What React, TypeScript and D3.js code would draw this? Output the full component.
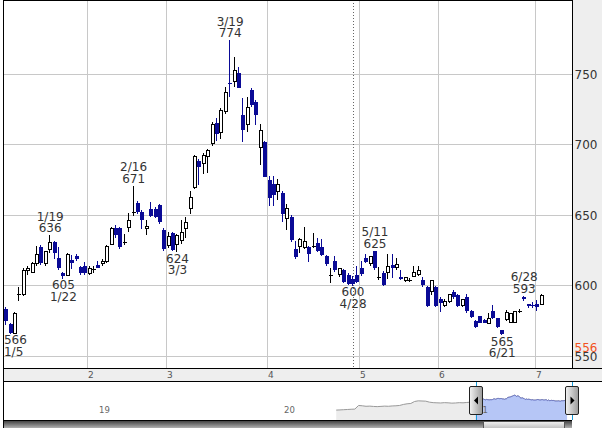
import React from "react";
import * as d3 from "d3";

// ---------------- data ----------------
const dates = [
  "1/4","1/5","1/6","1/7","1/8","1/12","1/13","1/14","1/15","1/18","1/19","1/20","1/21","1/22","1/25","1/26","1/27","1/28","1/29",
  "2/1","2/2","2/3","2/4","2/5","2/8","2/9","2/10","2/12","2/15","2/16","2/17","2/18","2/19","2/22","2/24","2/25","2/26",
  "3/1","3/2","3/3","3/4","3/5","3/8","3/9","3/10","3/11","3/12","3/15","3/16","3/17","3/18","3/19","3/22","3/23","3/24","3/25","3/26","3/29","3/30","3/31",
  "4/1","4/2","4/5","4/6","4/7","4/8","4/9","4/12","4/13","4/14","4/15","4/16","4/19","4/20","4/21","4/22","4/23","4/26","4/27","4/28","4/30",
  "5/6","5/7","5/10","5/11","5/12","5/13","5/14","5/17","5/18","5/19","5/20","5/21","5/24","5/25","5/26","5/27","5/28","5/31",
  "6/1","6/2","6/3","6/4","6/7","6/8","6/9","6/10","6/11","6/14","6/15","6/16","6/17","6/18","6/21","6/22","6/23","6/24","6/25","6/28","6/29","6/30",
  "7/1","7/2",
];

const opens = [
  584, 573, 567, 594, 594, 611, 610, 616, 627.5, 616, 626, 631, 619.5, 609, 608, 618.5, 621, 613.5, 614,
  609, 611.5, 615, 616, 618, 630, 641, 641, 631.5, 642, 652, 658.5, 652.5, 641, 654.5, 654.5, 657.5, 640,
  629, 637.5, 630, 632.5, 641, 655.5, 670, 688.5, 687, 692, 701, 715.5, 709, 724, 744, 745, 751, 721, 715, 739, 730.5, 698.5, 702,
  675, 672.5, 667, 666, 648, 649, 626, 628.5, 627.5, 627.5, 628.5, 630.5, 627.5, 621, 608, 617.5, 608.5, 611.5, 608, 605, 608,
  613, 619.5, 616, 624.5, 606, 609.5, 610, 615, 613.5, 606.5, 604, 604.5, 607, 608.5, 604.5, 599, 596.5, 599,
  591, 586.5, 589, 596, 593.5, 586.5, 592, 582, 575, 578.5, 576, 573.5, 582, 577, 568.5, 576.5, 574.5, 574.5, 582, 592, 587, 586.5,
  587.5, 587,
];

const highs = [
  585, 574, 581.5, 599, 613, 614, 617, 628, 629, 625, 636, 632, 627.5, 610, 623, 622, 622.5, 614, 617,
  614, 614, 617.5, 619, 629, 641.5, 643, 642, 637, 651.5, 671, 660, 654, 647, 659.5, 656, 658, 641,
  638, 638, 637, 647, 649, 667, 693, 690, 694, 697, 716, 719, 726, 741, 774, 762.5, 755, 733, 734, 740, 732, 715, 703,
  678, 678, 676, 667, 658, 650, 632, 634, 642, 628, 637.5, 634, 633, 622, 613, 621, 613, 612, 609, 607, 614,
  618, 622.5, 621.5, 625, 613.5, 610.5, 622.5, 622.5, 620, 611, 606.5, 605.5, 614, 614, 606, 600, 604, 600,
  592, 590.5, 594, 597, 594, 591, 594, 583, 576, 579, 576.5, 580.5, 586.5, 577.5, 569, 583, 581, 582, 584, 593, 587.5, 588.5,
  590, 594,
];

const lows = [
  572, 566, 566.5, 589, 593, 608, 609, 614, 615, 614, 623, 619, 611, 605, 607, 612, 618, 608, 608,
  608, 609, 612.5, 614, 616, 629, 634, 626, 629, 638.5, 649.5, 651, 640.5, 636, 649, 648, 644, 625,
  627, 624.5, 624, 630, 634, 651, 669, 671.5, 679, 680, 699, 703, 704, 722, 734, 741, 740, 702, 709, 727, 714, 686, 677,
  657, 657, 661, 645, 640, 631, 619, 623, 626, 617, 627, 624, 621, 614, 602, 610, 606, 602, 601, 600, 602,
  607, 616, 614, 611, 604, 600, 605, 605.5, 611, 604, 603, 602.5, 606, 607, 599.5, 585, 593.5, 585,
  581.5, 585, 588, 591, 585, 585, 581, 577, 570, 573.5, 573.5, 573, 576.5, 570.5, 565, 575.5, 573.5, 574, 581, 589.5, 584.5, 584.5,
  582.5, 586.5,
];

const closes = [
  575, 567, 581, 594.5, 611, 613, 616, 622.5, 616, 624.5, 631.5, 623.5, 612.5, 607, 622.5, 616, 619, 609, 609,
  613, 612, 613, 618, 628.5, 641, 636, 627.5, 631.5, 647, 652.5, 652.5, 647, 642.5, 649.5, 649, 645, 626,
  635.5, 625.5, 636, 638.5, 645.5, 663, 692, 684, 693, 696.5, 715, 708, 725, 737.5, 743, 753, 740, 710.5, 726.5, 728, 721, 710.5, 677.5,
  662, 664.5, 672, 651, 655, 632.5, 620.5, 633, 632, 622.5, 628, 625, 622, 615.5, 607.5, 611, 612.5, 603, 601.5, 601.5, 603,
  608.5, 617, 621, 612.5, 606, 601, 614, 613, 615.5, 605, 606, 604.5, 610, 611, 600.5, 586, 604, 586,
  588, 589, 594, 592, 586, 590.5, 582, 578, 571, 574, 574, 577.5, 577, 571, 566, 581.5, 580.5, 582, 582, 590.5, 585.5, 585.5,
  585, 593.5,
];

const priceTicks = [550, 600, 650, 700, 750];
const markLabels = [
  { date: "1/5", kind: "low" },
  { date: "1/19", kind: "high" },
  { date: "1/22", kind: "low" },
  { date: "2/16", kind: "high" },
  { date: "3/3", kind: "low" },
  { date: "3/19", kind: "high" },
  { date: "4/28", kind: "low" },
  { date: "5/11", kind: "high" },
  { date: "6/21", kind: "low" },
  { date: "6/28", kind: "high" },
];
const markerDate = "4/28";
const refPrice = 556;

// navigator (long history, weekly)
const navHistory = [
  300, 305, 312, 318, 325, 330, 440, 430, 415, 420, 410, 405, 412, 420, 415, 425, 430, 440,
  470, 490, 500, 560, 580, 575, 570, 540, 525, 520, 515, 525, 520, 510, 515, 525, 520, 530, 540, 555,
];
const navYearLabels = ["19", "20", "21"];
const navYearSlots = [-505, -257, 2];

// ---------------- layout ----------------
const W = 602, H = 428;
const PL = 3, PR = 572, PT = 0, PB = 368;
const BAND_B = 381;
const NAV_B = 420;
const SLOTS = 129.5;
const HIST_START = -187;
const HIST_STEP = 5;

const FONT = "'DejaVu Sans', Verdana, sans-serif";
const BLUE = "#0a0a96";

function textW(s: string, size = 12) {
  let w = 0;
  for (const ch of s) w += ch === "/" ? 0.337 * size : 0.636 * size;
  return w;
}

export default function App() {
  const x = d3.scaleLinear().domain([0, SLOTS]).range([3.6, PR]);
  const y = d3.scaleLinear().domain([550, 750]).range([356.5, 74.3]);

  const monthTicks: { i: number; label: string }[] = [];
  dates.forEach((d, i) => {
    if (i > 0 && d.split("/")[0] !== dates[i - 1].split("/")[0]) {
      monthTicks.push({ i, label: d.split("/")[0] });
    }
  });

  const candles = dates.map((d, i) => {
    const o = opens[i], h = highs[i], l = lows[i], c = closes[i];
    const cx = x(i + 0.5);
    const px = Math.floor(cx);
    const wx = px + 0.5;
    const yH = Math.round(y(h)), yL = Math.round(y(l));
    const doji = Math.abs(c - o) < 0.8;
    if (doji) {
      const yy = Math.round(y(c)) + 0.5;
      return (
        <g key={d}>
          <line x1={wx} x2={wx} y1={yH} y2={yL} stroke="#000" />
          <line x1={px - 1} x2={px + 3} y1={yy} y2={yy} stroke="#000" />
        </g>
      );
    }
    if (c > o) {
      const yt = Math.round(y(c)), yb = Math.round(y(o));
      return (
        <g key={d}>
          <line x1={wx} x2={wx} y1={yH} y2={yL} stroke="#000" />
          <rect x={px - 0.5} y={yt + 0.5} width={3} height={Math.max(1, yb - yt)} fill="#fff" stroke="#000" />
        </g>
      );
    }
    const yt = Math.round(y(o)), yb = Math.round(y(c));
    return (
      <g key={d}>
        <line x1={wx} x2={wx} y1={yH} y2={yL} stroke={BLUE} />
        <rect x={px - 1} y={yt} width={4} height={Math.max(1, yb - yt)} fill={BLUE} />
      </g>
    );
  });

  const marks = markLabels.map((m) => {
    const i = dates.indexOf(m.date);
    const cx = x(i + 0.5) + 0.5;
    const val = m.kind === "high" ? highs[i] : lows[i];
    const vs = String(Math.round(val));
    const clampX = (s: string) => {
      const hw = textW(s) / 2;
      return Math.min(Math.max(cx, PL + 1 + hw), PR - 1 - hw);
    };
    if (m.kind === "high") {
      const yy = y(val);
      return (
        <g key={m.date}>
          <text x={clampX(m.date)} y={yy - 14.5} textAnchor="middle">{m.date}</text>
          <text x={clampX(vs)} y={yy - 3} textAnchor="middle">{vs}</text>
        </g>
      );
    }
    const yy = y(val);
    return (
      <g key={m.date}>
        <text x={clampX(vs)} y={yy + 10.5} textAnchor="middle">{vs}</text>
        <text x={clampX(m.date)} y={yy + 22} textAnchor="middle">{m.date}</text>
      </g>
    );
  });

  const markerX = Math.round(x(dates.indexOf(markerDate) + 0.5)) + 0.5;

  // navigator
  const navX = d3.scaleLinear().domain([0, SLOTS]).range([475.7, 572.3]);
  const navY = d3.scaleLinear().domain([0, 1180]).range([NAV_B, BAND_B]);
  const navPts = [
    ...navHistory.map((v, k) => ({ s: HIST_START + HIST_STEP * k, v })),
    ...closes.map((v, i) => ({ s: i + 0.5, v })),
  ];
  const navArea = d3.area<{ s: number; v: number }>()
    .x((d) => navX(d.s)).y0(navY(0)).y1((d) => navY(d.v));
  const navLine = d3.line<{ s: number; v: number }>()
    .x((d) => navX(d.s)).y((d) => navY(d.v));
  const selL = navX(0), selR = navX(SLOTS);

  const handle = (cx: number, dir: number) => (
    <g>
      <rect x={Math.round(cx) - 6.5} y={386.5} width={13} height={28} rx={1.5}
        fill="url(#hgrad)" stroke="#222" />
      <path
        d={dir < 0
          ? `M${Math.round(cx) - 2},400.5 L${Math.round(cx) + 2},396.5 L${Math.round(cx) + 2},404.5 Z`
          : `M${Math.round(cx) + 2.5},400.5 L${Math.round(cx) - 1.5},396.5 L${Math.round(cx) - 1.5},404.5 Z`}
        fill="#000"
      />
    </g>
  );

  return (
    <div style={{ position: "absolute", left: 0, top: 0 }}>
      <svg width={W} height={H} style={{ display: "block", fontFamily: FONT }}>
        <defs>
          <linearGradient id="hgrad" x1="0" x2="1" y1="0" y2="0">
            <stop offset="0" stopColor="#f4f4f4" />
            <stop offset="1" stopColor="#9a9a9a" />
          </linearGradient>
          <linearGradient id="sgrad" x1="0" x2="0" y1="0" y2="1">
            <stop offset="0" stopColor="#333" />
            <stop offset="1" stopColor="#b0b0b0" />
          </linearGradient>
          <linearGradient id="tgrad" x1="0" x2="0" y1="0" y2="1">
            <stop offset="0" stopColor="#f2f2f2" />
            <stop offset="1" stopColor="#b8b8b8" />
          </linearGradient>
          <clipPath id="selclip">
            <rect x={selL} y={BAND_B} width={selR - selL} height={NAV_B - BAND_B} />
          </clipPath>
          <clipPath id="plotclip">
            <rect x={PL} y={PT} width={PR - PL} height={PB - PT} />
          </clipPath>
        </defs>

        <rect x={0} y={0} width={W} height={H} fill="#fff" />
        {/* right axis background */}
        <rect x={PR} y={0} width={W - PR} height={PB} fill="#eeeeee" />

        {/* gridlines */}
        <g stroke="#c8c8c8" shapeRendering="crispEdges">
          {priceTicks.map((t) => (
            <line key={t} x1={PL} x2={PR} y1={Math.floor(y(t)) + 0.5} y2={Math.floor(y(t)) + 0.5} />
          ))}
          {monthTicks.map((m) => (
            <line key={m.i} x1={Math.round(x(m.i)) + 0.5} x2={Math.round(x(m.i)) + 0.5} y1={PT} y2={PB} />
          ))}
        </g>

        {/* event marker */}
        <line x1={markerX} x2={markerX} y1={PT} y2={PB} stroke="#666" strokeDasharray="1,2" />

        {/* candles */}
        <g clipPath="url(#plotclip)" shapeRendering="crispEdges">{candles}</g>

        {/* labels */}
        <g fontSize={12} fill="#333">{marks}</g>

        {/* right axis labels */}
        <g fontSize={12} fill="#333">
          {priceTicks.map((t) => (
            <text key={t} x={574.5} y={y(t) + 4.4}>{t}</text>
          ))}
          <rect x={PR + 1} y={y(refPrice) - 7} width={W - PR - 1} height={11} fill="#eeeeee" />
          <text x={574.5} y={y(refPrice) + 4.4} fill="#f25022">{refPrice}</text>
        </g>

        {/* frame */}
        <g stroke="#000" shapeRendering="crispEdges">
          <line x1={PL} x2={PR} y1={0.5} y2={0.5} />
          <line x1={PR + 0.5} x2={PR + 0.5} y1={0} y2={PB} />
          <line x1={PL + 0.5} x2={PL + 0.5} y1={0} y2={H} />
        </g>

        {/* x band */}
        <rect x={PL} y={PB} width={W - PL} height={BAND_B - PB} fill="#eeeeee" />
        <g stroke="#000" shapeRendering="crispEdges">
          <line x1={PL} x2={W} y1={PB + 0.5} y2={PB + 0.5} />
          <line x1={PL} x2={W} y1={BAND_B + 0.5} y2={BAND_B + 0.5} />
        </g>
        <g fontSize={9} fill="#555">
          {monthTicks.map((m) => (
            <text key={m.i} x={Math.round(x(m.i)) + 1} y={377.5}>{m.label}</text>
          ))}
        </g>

        {/* navigator */}
        <g>
          <path d={navArea(navPts) || ""} fill="#ececec" stroke="none" />
          <path d={navLine(navPts) || ""} fill="none" stroke="#999" />
          <g clipPath="url(#selclip)">
            <path d={navArea(navPts) || ""} fill="#b6c6f6" stroke="none" />
            <path d={navLine(navPts) || ""} fill="none" stroke="#6670c0" />
          </g>
          <g fontSize={8.5} fill="#666">
            {navYearLabels.map((lab, k) => (
              <text key={lab} x={navX(navYearSlots[k])} y={413.3}>{lab}</text>
            ))}
          </g>
          <line x1={Math.round(selL) + 0.5} x2={Math.round(selL) + 0.5} y1={BAND_B + 1} y2={NAV_B} stroke="#1a9ad6" />
          <line x1={Math.round(selR) + 0.5} x2={Math.round(selR) + 0.5} y1={BAND_B + 1} y2={NAV_B} stroke="#1a9ad6" />
          {handle(selL, -1)}
          {handle(selR, 1)}
        </g>

        {/* scrollbar */}
        <rect x={PL} y={NAV_B} width={PR - PL} height={H - NAV_B} fill="url(#sgrad)" />
        <line x1={PL} x2={PR} y1={NAV_B + 0.5} y2={NAV_B + 0.5} stroke="#000" />
        <rect x={483.5} y={NAV_B + 1.5} width={81} height={H - NAV_B} fill="url(#tgrad)" stroke="#555" />
        <line x1={PL + 0.5} x2={PL + 0.5} y1={PB} y2={H} stroke="#000" />
      </svg>
    </div>
  );
}
